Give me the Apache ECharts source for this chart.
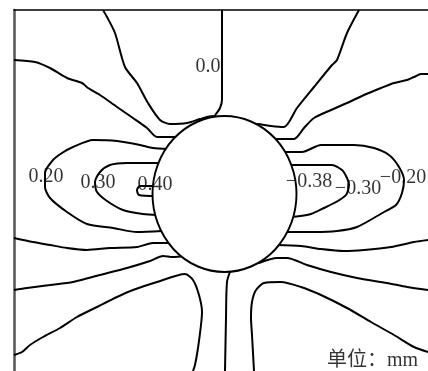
<!DOCTYPE html>
<html>
<head>
<meta charset="utf-8">
<script src="https://cdn.jsdelivr.net/npm/echarts@6/dist/echarts.min.js"></script>
<style>
  html, body { margin: 0; padding: 0; background: #fff; }
  #chart { width: 428px; height: 371px; }
</style>
</head>
<body>
<div id="chart"></div>
<script>
// Contour lines of displacement around the hole, in plot units (x right, y down).
const lineTopLeft   = [[103,10],[107,17],[115,33],[125,67],[137,83],[148,103],[160,120],[170,124],[187,123],[200,119],[213,116],[217,119]];
const lineZero      = [[222,10],[222,100],[220,108],[216,114],[213,119]];
const lineLeftUpper = [[14,60],[35,62],[50,68],[67,78],[82,83],[88,88],[100,95],[117,107],[133,118],[147,128],[157,137],[175,137],[179,137]];
const loop020       = [[168,149],[153,148],[140,145],[117,141],[93,140],[73,147],[62,153],[53,160],[45,173],[45,187],[50,198],[67,212],[87,224],[113,228],[137,232],[162,231]];
const loop030       = [[162,163],[143,163],[127,163],[110,165],[100,172],[95,182],[97,192],[107,201],[123,210],[143,214],[158,215]];
const loop040       = [[156,186],[140,186],[137,190],[139,195],[156,196]];
const lineTopRight  = [[359,10],[347,33],[337,60],[332,65],[314,87],[297,108],[284,127],[271,126],[257,124],[252,126]];
const lineRightUpper= [[428,74],[421,74],[414,77],[407,80],[394,83],[381,88],[364,95],[347,103],[331,110],[314,118],[304,128],[294,139],[277,139],[272,139]];
const loopM020      = [[282,152],[302,152],[321,145],[354,145],[374,148],[389,155],[399,167],[404,180],[402,193],[396,205],[384,212],[357,227],[337,231],[314,232],[286,232]];
const loopM030      = [[290,165],[314,165],[332,165],[342,170],[347,178],[349,185],[346,195],[336,202],[324,208],[311,214],[292,217]];
const lineLeftMid   = [[14,238],[33,242],[50,245],[67,248],[87,250],[110,248],[137,247],[153,243],[167,243],[172,243]];
const lineLeftLow   = [[14,290],[27,288],[50,285],[73,282],[100,275],[127,268],[150,261],[163,256],[173,257],[185,256]];
const loopLeftBottom= [[14,355],[22,352],[30,345],[43,337],[60,328],[77,317],[97,307],[117,297],[133,290],[157,282],[185,274],[193,280],[199,295],[202,312],[201,325],[198,348],[195,365],[193,371]];
const lineBottom    = [[231,269],[227,282],[226,318],[225,371]];
const lineRightLow  = [[259,263],[277,258],[287,258],[307,265],[331,272],[357,278],[387,283],[407,287],[428,290]];
const lineRightMid  = [[276,245],[301,246],[321,249],[344,251],[364,250],[391,247],[414,242],[428,240]];
const loopRightBottom=[[254,371],[252,335],[251,318],[252,302],[256,290],[264,283],[281,282],[301,287],[321,295],[347,308],[371,322],[394,335],[414,347],[428,352]];

const contourLines = [lineTopLeft, lineZero, lineLeftUpper, loop020, loop030, loop040,
  lineTopRight, lineRightUpper, loopM020, loopM030, lineLeftMid, lineLeftLow,
  loopLeftBottom, lineBottom, lineRightLow, lineRightMid, loopRightBottom];

// Hole centre
const holeCentre = [224.5, 194];

// Contour level labels and where they sit
const levelNames  = ['0.0', '0.20', '0.30', '0.40', '\u22120.38', '\u22120.30', '\u22120.20'];
const levelPoints = [[208,67], [46,177], [98,183], [155,185], [309,182], [358,189], [403,178]];
const unitText = '单位：mm';
const unitPoint = [418, 361];

const chart = echarts.init(document.getElementById('chart'), null, { renderer: 'canvas' });

const serif = "'Liberation Serif', 'Times New Roman', serif";

const series = contourLines.map(pts => ({
  type: 'line',
  data: pts,
  smooth: 0.25,
  symbol: 'none',
  silent: true,
  z: 2,
  lineStyle: { color: '#000', width: 2 }
}));

series.push({
  type: 'scatter',
  data: [holeCentre],
  symbol: 'circle',
  symbolSize: [144, 156],
  silent: true,
  z: 3,
  itemStyle: { color: '#fff', borderColor: '#000', borderWidth: 2, opacity: 1 }
});

series.push({
  type: 'scatter',
  data: levelPoints.map((p, i) => ({ value: p, name: levelNames[i] })),
  symbolSize: 0,
  silent: true,
  z: 5,
  label: {
    show: true,
    position: 'inside',
    formatter: p => p.name,
    color: '#000',
    fontFamily: serif,
    fontSize: 20
  }
});

series.push({
  type: 'scatter',
  data: [{ value: unitPoint, name: unitText }],
  symbolSize: 0,
  silent: true,
  z: 5,
  label: {
    show: true,
    position: 'left',
    distance: 0,
    formatter: p => p.name,
    color: '#000',
    fontFamily: "'Liberation Serif', 'Noto Sans CJK SC', serif",
    fontSize: 20
  }
});

chart.setOption({
  animation: false,
  backgroundColor: '#fff',
  grid: { left: 14, top: 10, right: 0, bottom: 0 },
  xAxis: {
    type: 'value', min: 14, max: 428, position: 'top',
    axisLine: { show: true, onZero: false, lineStyle: { color: '#000', width: 1.5 } },
    axisTick: { show: false }, axisLabel: { show: false }, splitLine: { show: false }
  },
  yAxis: {
    type: 'value', min: 10, max: 371, inverse: true, position: 'left',
    axisLine: { show: true, onZero: false, lineStyle: { color: '#555', width: 2.5 } },
    axisTick: { show: false }, axisLabel: { show: false }, splitLine: { show: false }
  },
  series: series
});
</script>
</body>
</html>
